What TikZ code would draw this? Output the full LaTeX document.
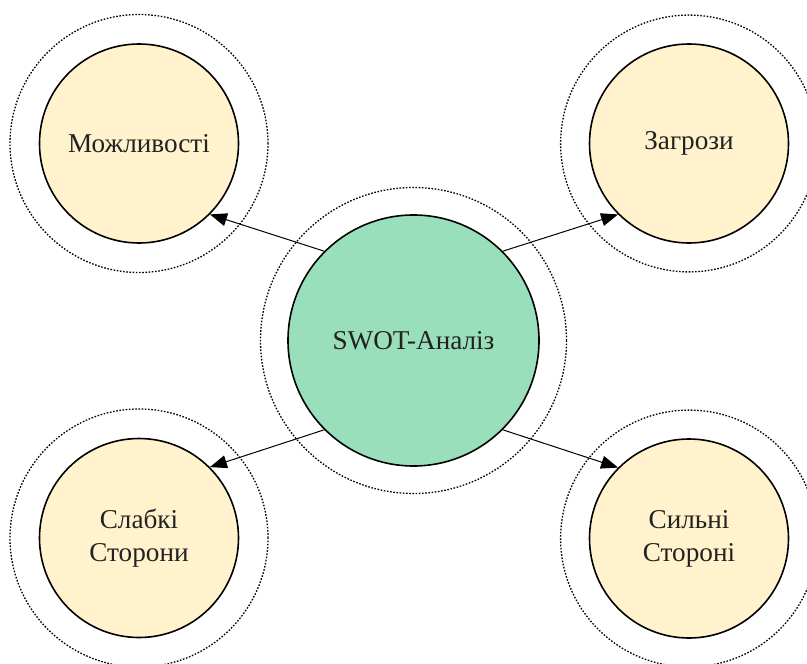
\documentclass[tikz,border=0pt]{standalone}
\usepackage{fontspec}
\setmainfont{Liberation Serif}
\usetikzlibrary{arrows.meta}
\definecolor{petal}{HTML}{FFF2CC}
\definecolor{hub}{HTML}{9ADFBB}
\definecolor{ink}{HTML}{222222}
\begin{document}
\begin{tikzpicture}[x=0.5pt,y=-0.5pt,
  petalnode/.style={circle,draw=black,line width=0.8pt,fill=petal,minimum size=99.5pt,inner sep=0pt,align=center,text=ink,font=\fontsize{13.6}{16.5}\selectfont},
  hubnode/.style={circle,draw=black,line width=0.8pt,fill=hub,minimum size=125.5pt,inner sep=0pt,align=center,text=ink,font=\fontsize{13.6}{16.5}\selectfont},
  ring/.style={draw=black,line width=0.65pt,dash pattern=on 0.8pt off 0.8pt},
  link/.style={draw=black,line width=0.5pt,-{Triangle[length=8.5pt,width=6.5pt]}}]
\useasboundingbox (0,0) rectangle (807,663);
\node[hubnode] (c) at (413.5,340.5) {SWOT-Аналіз};
\node[petalnode] (tl) at (139,143.5) {Можливості};
\node[petalnode] (tr) at (689,143.5) {Загрози};
\node[petalnode] (bl) at (139,538) {Слабкі\\Сторони};
\node[petalnode] (br) at (689,538.5) {Сильні\\Стороні};
\draw[ring] (c.center) circle[radius=76.5pt];
\draw[ring] (tl.center) circle[radius=64.5pt];
\draw[ring] (tr.center) circle[radius=64.2pt];
\draw[ring] (bl.center) circle[radius=64.5pt];
\draw[ring] (br.center) circle[radius=64.2pt];
\draw[link] (c.135) -- (tl.-45);
\draw[link] (c.45) -- (tr.-135);
\draw[link] (c.-135) -- (bl.45);
\draw[link] (c.-45) -- (br.135);
\end{tikzpicture}
\end{document}
